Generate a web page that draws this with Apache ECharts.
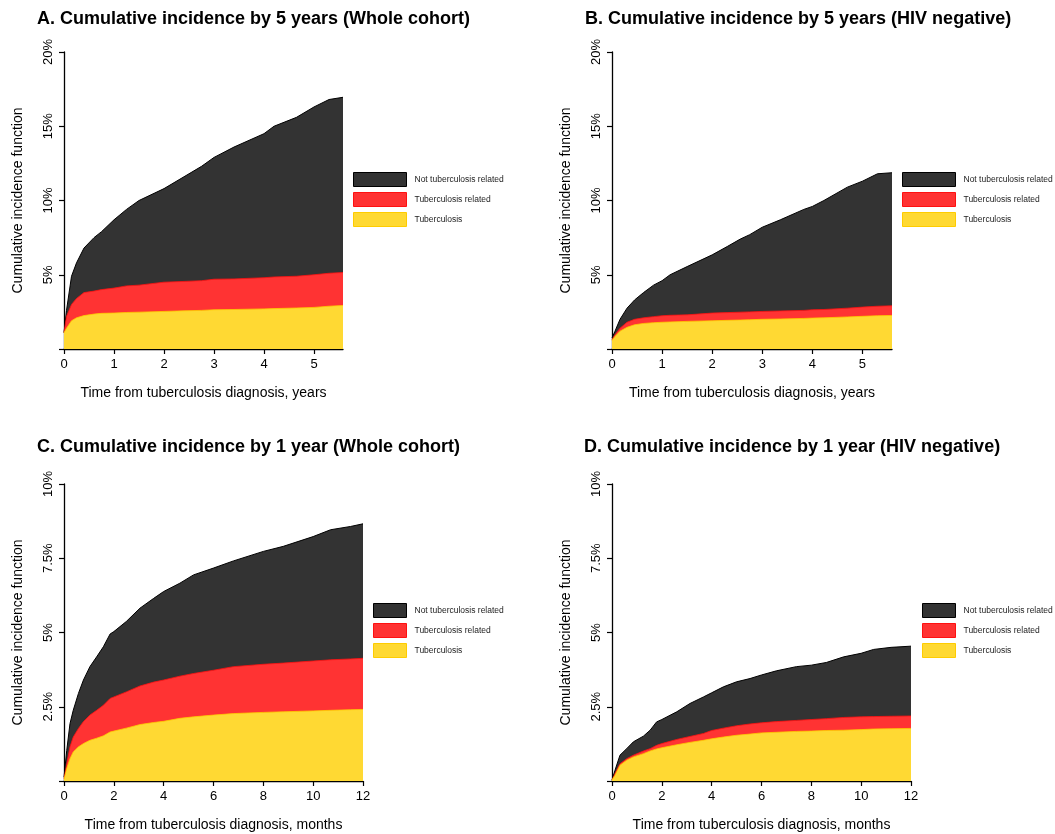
<!DOCTYPE html>
<html>
<head>
<meta charset="utf-8">
<script src="https://cdn.jsdelivr.net/npm/echarts@6/dist/echarts.min.js"></script>
<style>
html,body{margin:0;padding:0;background:#fff;}
#chart{width:1055px;height:834px;}
</style>
</head>
<body>
<div id="chart"></div>
<script>
// ---------- data (cumulative incidence, %, upper boundary of each layer) ----------
const legendNames = ['Not tuberculosis related', 'Tuberculosis related', 'Tuberculosis'];

// Panel A: whole cohort, years
const timeA = [0, 0.05, 0.15, 0.25, 0.4, 0.6, 0.75, 1.0, 1.25, 1.5, 2.0, 2.4, 2.75, 3.0, 3.4, 4.0, 4.2, 4.65, 5.0, 5.3, 5.58];
const notTbA = [1.1, 2.6, 4.9, 5.8, 6.8, 7.5, 7.9, 8.7, 9.4, 10.0, 10.8, 11.6, 12.3, 12.9, 13.6, 14.5, 15.0, 15.6, 16.3, 16.8, 16.95];
const tbRelA = [1.1, 2.2, 3.0, 3.4, 3.8, 3.9, 4.0, 4.1, 4.25, 4.3, 4.5, 4.55, 4.6, 4.7, 4.72, 4.8, 4.85, 4.9, 5.0, 5.1, 5.15];
const tbA = [1.1, 1.4, 1.9, 2.1, 2.25, 2.35, 2.4, 2.42, 2.46, 2.48, 2.53, 2.57, 2.6, 2.64, 2.66, 2.7, 2.72, 2.76, 2.8, 2.88, 2.93];

// Panel B: HIV negative, years
const timeB = [0, 0.06, 0.16, 0.3, 0.45, 0.63, 0.83, 1.0, 1.16, 1.5, 2.0, 2.3, 2.56, 2.75, 3.0, 3.36, 3.83, 4.0, 4.23, 4.7, 5.0, 5.3, 5.59];
const notTbB = [0.74, 1.2, 2.0, 2.75, 3.3, 3.8, 4.3, 4.6, 5.0, 5.55, 6.34, 6.9, 7.4, 7.7, 8.2, 8.7, 9.4, 9.6, 10.0, 10.9, 11.3, 11.8, 11.87];
const tbRelB = [0.63, 0.96, 1.4, 1.8, 2.0, 2.1, 2.18, 2.24, 2.27, 2.3, 2.42, 2.45, 2.48, 2.5, 2.53, 2.56, 2.6, 2.64, 2.66, 2.75, 2.82, 2.88, 2.91];
const tbB = [0.58, 0.85, 1.2, 1.46, 1.63, 1.72, 1.77, 1.8, 1.82, 1.86, 1.9, 1.93, 1.95, 1.97, 2.0, 2.02, 2.06, 2.08, 2.1, 2.16, 2.2, 2.24, 2.26];

// Panel C: whole cohort, months
const timeC = [0, 0.11, 0.24, 0.37, 0.58, 0.78, 1.04, 1.31, 1.58, 1.85, 2.0, 2.5, 3.05, 3.6, 4.0, 4.65, 5.2, 6.0, 6.8, 8.0, 8.8, 10.0, 10.7, 11.5, 12.0];
const notTbC = [0.13, 1.03, 1.93, 2.38, 2.95, 3.4, 3.85, 4.18, 4.52, 4.95, 5.03, 5.37, 5.82, 6.15, 6.38, 6.66, 6.94, 7.17, 7.41, 7.73, 7.9, 8.23, 8.46, 8.57, 8.66];
const tbRelC = [0.08, 0.58, 1.15, 1.48, 1.77, 2.0, 2.22, 2.38, 2.55, 2.78, 2.83, 3.0, 3.2, 3.33, 3.4, 3.53, 3.62, 3.73, 3.85, 3.93, 3.97, 4.04, 4.08, 4.11, 4.13];
const tbC = [0.05, 0.42, 0.75, 0.98, 1.15, 1.26, 1.37, 1.44, 1.52, 1.65, 1.68, 1.78, 1.9, 1.97, 2.01, 2.11, 2.16, 2.22, 2.27, 2.31, 2.33, 2.36, 2.38, 2.4, 2.41];

// Panel D: HIV negative, months
const timeD = [0, 0.12, 0.32, 0.59, 0.86, 1.26, 1.53, 1.79, 2.0, 2.6, 3.13, 3.67, 4.0, 4.47, 5.0, 5.54, 6.0, 6.6, 7.4, 8.0, 8.6, 9.3, 10.0, 10.5, 11.2, 12.0];
const notTbD = [0.03, 0.36, 0.87, 1.09, 1.32, 1.51, 1.71, 1.99, 2.07, 2.33, 2.61, 2.83, 2.97, 3.17, 3.34, 3.45, 3.57, 3.71, 3.85, 3.9, 3.99, 4.18, 4.3, 4.43, 4.5, 4.54];
const tbRelD = [0.03, 0.25, 0.58, 0.75, 0.87, 1.01, 1.09, 1.2, 1.26, 1.4, 1.5, 1.6, 1.7, 1.78, 1.86, 1.92, 1.96, 2.0, 2.04, 2.07, 2.1, 2.14, 2.16, 2.17, 2.18, 2.19];
const tbD = [0.03, 0.19, 0.53, 0.7, 0.81, 0.92, 1.01, 1.08, 1.12, 1.22, 1.3, 1.37, 1.42, 1.48, 1.54, 1.58, 1.62, 1.64, 1.67, 1.68, 1.7, 1.71, 1.73, 1.75, 1.76, 1.77];

// tick labels
const xTicksYears = [0, 1, 2, 3, 4, 5];
const xTicksMonths = [0, 2, 4, 6, 8, 10, 12];
const yTicks5y = [0, 5, 10, 15, 20];
const yTicks1y = [0, 2.5, 5, 7.5, 10];

const titles = [
  'A. Cumulative incidence by 5 years (Whole cohort)',
  'B. Cumulative incidence by 5 years (HIV negative)',
  'C. Cumulative incidence by 1 year (Whole cohort)',
  'D. Cumulative incidence by 1 year (HIV negative)'
];
const xTitleYears = 'Time from tuberculosis diagnosis, years';
const xTitleMonths = 'Time from tuberculosis diagnosis, months';
const yTitle = 'Cumulative incidence function';

// ---------- styling ----------
const FONT = '"Liberation Sans", Arial, Helvetica, sans-serif';
const colDark = '#333333', colRed = '#ff3333', colYellow = '#ffd933';
const lineDark = '#000000', lineRed = '#ff1111', lineYellow = '#ffcc00';

const panels = [
  {time: timeA, layers: [notTbA, tbRelA, tbA], left: 64, top: 52, width: 279, xmax: 5.58, xticks: xTicksYears, ymax: 20, yticks: yTicks5y, xTitle: xTitleYears, titleLeft: 37, titleTop: 10, legLeft: 353, legTop: 172, legW: 53},
  {time: timeB, layers: [notTbB, tbRelB, tbB], left: 612, top: 52, width: 280, xmax: 5.59, xticks: xTicksYears, ymax: 20, yticks: yTicks5y, xTitle: xTitleYears, titleLeft: 585, titleTop: 10, legLeft: 902, legTop: 172, legW: 53},
  {time: timeC, layers: [notTbC, tbRelC, tbC], left: 64, top: 484, width: 299, xmax: 12, xticks: xTicksMonths, ymax: 10, yticks: yTicks1y, xTitle: xTitleMonths, titleLeft: 37, titleTop: 438, legLeft: 373, legTop: 603, legW: 33},
  {time: timeD, layers: [notTbD, tbRelD, tbD], left: 612, top: 484, width: 299, xmax: 12, xticks: xTicksMonths, ymax: 10, yticks: yTicks1y, xTitle: xTitleMonths, titleLeft: 584, titleTop: 438, legLeft: 922, legTop: 603, legW: 33}
];

const fills = [colDark, colRed, colYellow];
const strokes = [lineDark, lineRed, lineYellow];
const strokeW = [1, 0.8, 0.8];

const option = {
  animation: false,
  backgroundColor: '#fff',
  textStyle: {fontFamily: FONT},
  title: [], grid: [], xAxis: [], yAxis: [], legend: [], series: []
};

panels.forEach((p, i) => {
  option.title.push({
    text: titles[i], left: p.titleLeft, top: p.titleTop, padding: 0,
    textStyle: {fontFamily: FONT, fontSize: 18, fontWeight: 'bold', color: '#000'}
  });
  option.grid.push({left: p.left, top: p.top, width: p.width, height: 297, containLabel: false});
  option.xAxis.push({
    type: 'value', gridIndex: i, min: 0, max: p.xmax,
    name: p.xTitle, nameLocation: 'middle', nameGap: 37,
    nameTextStyle: {fontFamily: FONT, fontSize: 14, color: '#000'},
    axisLine: {show: true, lineStyle: {color: '#000', width: 1.3}},
    axisTick: {show: true, length: 5, lineStyle: {color: '#000', width: 1.2}, customValues: p.xticks},
    axisLabel: {fontFamily: FONT, fontSize: 13, color: '#000', margin: 9, customValues: p.xticks},
    splitLine: {show: false}
  });
  option.yAxis.push({
    type: 'value', gridIndex: i, min: 0, max: p.ymax,
    name: yTitle, nameLocation: 'middle', nameGap: 39, nameRotate: 90,
    nameTextStyle: {fontFamily: FONT, fontSize: 14, color: '#000'},
    axisLine: {show: true, lineStyle: {color: '#000', width: 1.3}},
    axisTick: {show: true, length: 5, lineStyle: {color: '#000', width: 1.2}, customValues: p.yticks},
    axisLabel: {
      fontFamily: FONT, fontSize: 13, color: '#000', rotate: 90, margin: 9,
      customValues: p.yticks,
      formatter: v => (v === 0 ? '' : v + '%')
    },
    splitLine: {show: false}
  });
  option.legend.push({
    orient: 'vertical', left: p.legLeft, top: p.legTop, padding: 0,
    itemWidth: p.legW, itemHeight: 14, itemGap: 5, icon: 'rect',
    selectedMode: false,
    textStyle: {fontFamily: FONT, fontSize: 8.5, color: '#222', padding: [0, 0, 0, 3]},
    data: legendNames.map((n, k) => ({
      name: n, icon: 'rect',
      itemStyle: {color: fills[k], borderColor: strokes[k], borderWidth: 1}
    }))
  });
  p.layers.forEach((vals, k) => {
    option.series.push({
      name: legendNames[k], type: 'line', xAxisIndex: i, yAxisIndex: i,
      data: p.time.map((t, j) => [t, vals[j]]),
      showSymbol: false, symbol: 'none', smooth: false,
      color: fills[k],
      itemStyle: {color: fills[k]},
      lineStyle: {color: strokes[k], width: strokeW[k]},
      areaStyle: {color: fills[k], opacity: 1},
      z: 2 + k
    });
  });
});

const chart = echarts.init(document.getElementById('chart'), null, {renderer: 'canvas'});
chart.setOption(option);
</script>
</body>
</html>
